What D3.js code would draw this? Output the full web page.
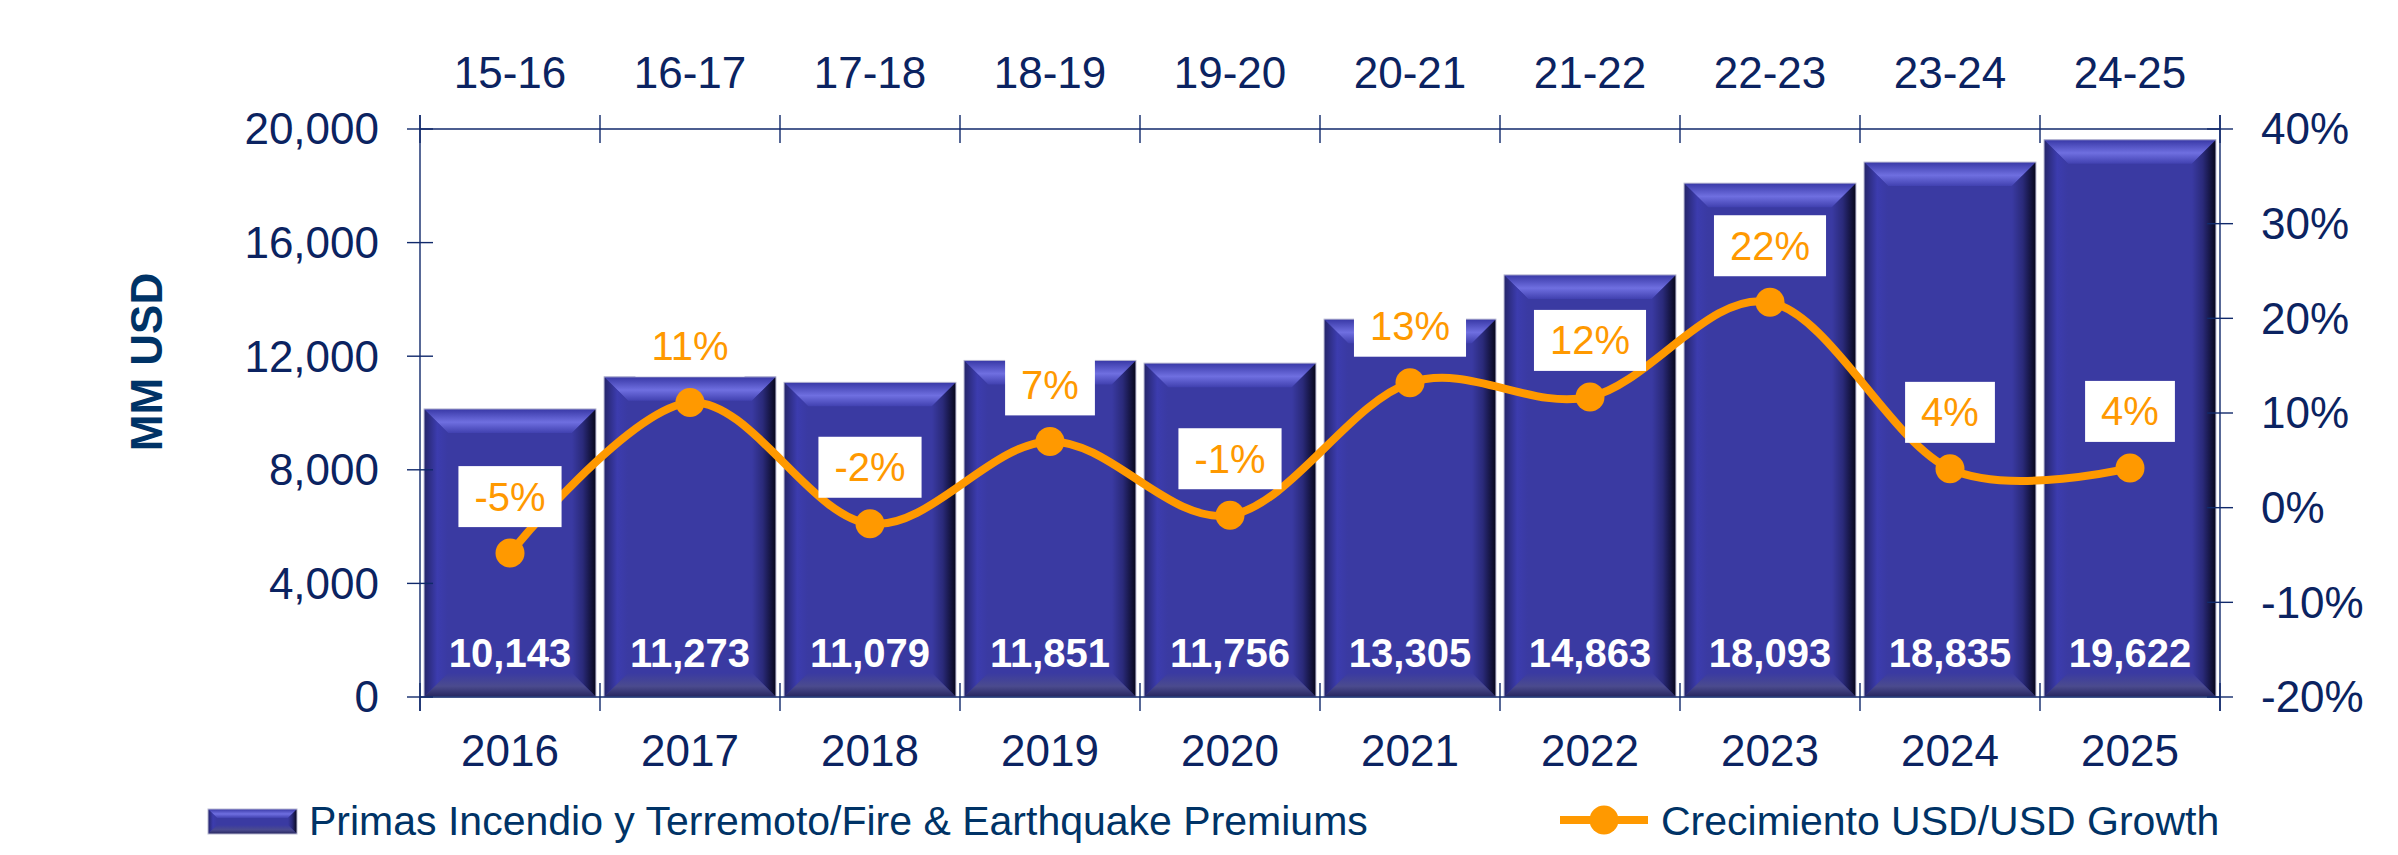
<!DOCTYPE html>
<html>
<head>
<meta charset="utf-8">
<script src="https://cdn.jsdelivr.net/npm/d3@7"></script>
<style>
  body { margin: 0; background: #fff; }
  text { font-family: "Liberation Sans", Arial, sans-serif; }
</style>
</head>
<body>
<div id="chart"></div>
<script>
// primas incendio y terremoto + crecimiento

var years = ["2016", "2017", "2018", "2019", "2020", "2021", "2022", "2023", "2024", "2025"];
var periods = ["15-16", "16-17", "17-18", "18-19", "19-20", "20-21", "21-22", "22-23", "23-24", "24-25"];
var premiums = [10143, 11273, 11079, 11851, 11756, 13305, 14863, 18093, 18835, 19622];
var growth = [-0.048, 0.111, -0.017, 0.070, -0.008, 0.132, 0.117, 0.217, 0.041, 0.042];
var growthLabels = ["-5%", "11%", "-2%", "7%", "-1%", "13%", "12%", "22%", "4%", "4%"];
var leftTicks = [0, 4000, 8000, 12000, 16000, 20000];
var rightTicks = [-0.2, -0.1, 0, 0.1, 0.2, 0.3, 0.4];
var legendLabels = ["Primas Incendio y Terremoto/Fire & Earthquake Premiums", "Crecimiento USD/USD Growth"];

var width = 2398, height = 855;
var navy = "#0b2361";
var axisColor = "#10296b";
var orange = "#FF9900";

var svg = d3.select("#chart")
    .append("svg")
    .attr("width", width)
    .attr("height", height);

var defs = svg.append("defs");

// gradients for the bevelled bars
function grad(id, x2, y2, stops) {
    var g = defs.append("linearGradient")
        .attr("id", id)
        .attr("x1", 0).attr("y1", 0)
        .attr("x2", x2).attr("y2", y2);
    stops.forEach(function (s) {
        g.append("stop").attr("offset", s[0]).attr("stop-color", s[1]);
    });
}
grad("gTop", 0, 1, [["0%", "#3838a6"], ["55%", "#6f6fe0"], ["100%", "#4141b0"]]);
grad("gLeft", 1, 0, [["0%", "#25256a"], ["55%", "#3c3cae"], ["100%", "#3a3aa2"]]);
grad("gRight", 1, 0, [["0%", "#3a3aa2"], ["45%", "#2a2a7a"], ["100%", "#06061a"]]);
grad("gBottom", 0, 1, [["0%", "#3a3aa2"], ["55%", "#4b4b8e"], ["100%", "#26265e"]]);

var x = d3.scaleBand()
    .domain(years)
    .range([420, 2220])
    .paddingInner(0.045)
    .paddingOuter(0.0225);

var yL = d3.scaleLinear().domain([0, 20000]).range([697, 129]);
var yR = d3.scaleLinear().domain([-0.2, 0.4]).range([697, 129]);

var xLeft = x.range()[0], xRight = x.range()[1];
var step = x.step();

// percent with a plain hyphen for negatives
var pct = function (d) { return d3.format(".0%")(d).replace("\u2212", "-"); };

// draws one bevelled block
function bevelBar(g, x0, y0, w, h, b) {
    var x1 = x0 + w, y1 = y0 + h;
    g.append("rect")
        .attr("x", x0).attr("y", y0).attr("width", w).attr("height", h)
        .attr("fill", "#3a3aa2");
    var pts = function (a) { return a.map(function (p) { return p.join(","); }).join(" "); };
    g.append("polygon").attr("points", pts([[x0, y0], [x1, y0], [x1 - b, y0 + b], [x0 + b, y0 + b]])).attr("fill", "url(#gTop)");
    g.append("polygon").attr("points", pts([[x0, y0], [x0 + b, y0 + b], [x0 + b, y1 - b], [x0, y1]])).attr("fill", "url(#gLeft)");
    g.append("polygon").attr("points", pts([[x1, y0], [x1, y1], [x1 - b, y1 - b], [x1 - b, y0 + b]])).attr("fill", "url(#gRight)");
    g.append("polygon").attr("points", pts([[x0, y1], [x0 + b, y1 - b], [x1 - b, y1 - b], [x1, y1]])).attr("fill", "url(#gBottom)");
    g.append("rect")
        .attr("x", x0).attr("y", y0).attr("width", w).attr("height", h)
        .attr("fill", "none").attr("stroke", "#b9b9d2").attr("stroke-width", 1);
}

// bars
var bars = svg.append("g");
years.forEach(function (yr, i) {
    var g = bars.append("g");
    bevelBar(g, x(yr), yL(premiums[i]), x.bandwidth(), yL(0) - yL(premiums[i]), 24);
});

// bar value labels
svg.append("g").selectAll("text")
    .data(premiums)
    .enter()
    .append("text")
    .attr("x", function (d, i) { return x(years[i]) + x.bandwidth() / 2; })
    .attr("y", yL(0) - 30)
    .attr("text-anchor", "middle")
    .style("font-size", "40px")
    .style("font-weight", "bold")
    .style("fill", "#fff")
    .text(function (d) { return d3.format(",")(d); });

// axes
var axes = svg.append("g").attr("stroke", axisColor).attr("stroke-width", 1.4);
// left / right vertical lines
axes.append("line").attr("x1", xLeft).attr("x2", xLeft).attr("y1", yL(20000) - 14).attr("y2", yL(0) + 14);
axes.append("line").attr("x1", xRight).attr("x2", xRight).attr("y1", yL(20000) - 14).attr("y2", yL(0) + 14);
// top and bottom horizontal lines
axes.append("line").attr("x1", xLeft).attr("x2", xRight).attr("y1", yL(20000)).attr("y2", yL(20000));
axes.append("line").attr("x1", xLeft).attr("x2", xRight).attr("y1", yL(0)).attr("y2", yL(0));

// category boundaries (crossing ticks top & bottom)
var bounds = years.map(function (d) { return x(d) - step * x.paddingInner() / 2; }).concat([xRight]);
bounds.forEach(function (bx) {
    axes.append("line").attr("x1", bx).attr("x2", bx).attr("y1", yL(0) - 14).attr("y2", yL(0) + 14);
    axes.append("line").attr("x1", bx).attr("x2", bx).attr("y1", yL(20000) - 14).attr("y2", yL(20000) + 14);
});

// value ticks
leftTicks.forEach(function (t) {
    axes.append("line").attr("x1", xLeft - 13).attr("x2", xLeft + 13).attr("y1", yL(t)).attr("y2", yL(t));
});
rightTicks.forEach(function (t) {
    axes.append("line").attr("x1", xRight - 13).attr("x2", xRight + 13).attr("y1", yR(t)).attr("y2", yR(t));
});

// tick labels
svg.append("g").selectAll("text")
    .data(leftTicks)
    .enter()
    .append("text")
    .attr("x", xLeft - 41)
    .attr("y", function (d) { return yL(d); })
    .attr("dy", "0.35em")
    .attr("text-anchor", "end")
    .style("font-size", "44px")
    .style("fill", navy)
    .text(function (d) { return d3.format(",")(d); });

svg.append("g").selectAll("text")
    .data(rightTicks)
    .enter()
    .append("text")
    .attr("x", xRight + 41)
    .attr("y", function (d) { return yR(d); })
    .attr("dy", "0.35em")
    .attr("text-anchor", "start")
    .style("font-size", "44px")
    .style("fill", navy)
    .text(pct);

svg.append("g").selectAll("text")
    .data(years)
    .enter()
    .append("text")
    .attr("x", function (d) { return x(d) + x.bandwidth() / 2; })
    .attr("y", yL(0) + 54)
    .attr("dy", "0.35em")
    .attr("text-anchor", "middle")
    .style("font-size", "44px")
    .style("fill", navy)
    .text(function (d) { return d; });

svg.append("g").selectAll("text")
    .data(periods)
    .enter()
    .append("text")
    .attr("x", function (d, i) { return x(years[i]) + x.bandwidth() / 2; })
    .attr("y", yL(20000) - 56)
    .attr("dy", "0.35em")
    .attr("text-anchor", "middle")
    .style("font-size", "44px")
    .style("fill", navy)
    .text(function (d) { return d; });

// axis title
svg.append("text")
    .attr("transform", "translate(147," + (yL(10000) - 51) + ") rotate(-90)")
    .attr("dy", "0.35em")
    .attr("text-anchor", "middle")
    .style("font-size", "44px")
    .style("font-weight", "bold")
    .style("fill", "#003366")
    .text("MM USD");

// growth line
var pts = growth.map(function (g, i) { return [x(years[i]) + x.bandwidth() / 2, yR(g)]; });
var line = d3.line().curve(d3.curveCardinal.tension(0));
svg.append("path")
    .attr("d", line(pts))
    .attr("fill", "none")
    .attr("stroke", orange)
    .attr("stroke-width", 8);

svg.append("g").selectAll("circle")
    .data(pts)
    .enter()
    .append("circle")
    .attr("cx", function (d) { return d[0]; })
    .attr("cy", function (d) { return d[1]; })
    .attr("r", 14.5)
    .attr("fill", orange);

// growth labels on white boxes
var lab = svg.append("g").selectAll("g")
    .data(pts)
    .enter()
    .append("g")
    .attr("transform", function (d) { return "translate(" + d[0] + "," + (d[1] - 57) + ")"; });
lab.append("text")
    .attr("text-anchor", "middle")
    .attr("dy", "0.36em")
    .style("font-size", "40px")
    .style("fill", orange)
    .text(function (d, i) { return growthLabels[i]; });
lab.each(function () {
    var g = d3.select(this);
    var bb = g.select("text").node().getBBox();
    g.insert("rect", "text")
        .attr("x", bb.x - 16)
        .attr("y", -30)
        .attr("width", bb.width + 32)
        .attr("height", 61)
        .attr("fill", "#fff");
});

// legend
var leg = svg.append("g");
bevelBar(leg.append("g"), 208, 809, 89, 25, 9);
leg.append("text")
    .attr("x", 309).attr("y", 821).attr("dy", "0.35em")
    .style("font-size", "41px").style("fill", "#003366")
    .text(legendLabels[0]);
leg.append("line")
    .attr("x1", 1560).attr("x2", 1648).attr("y1", 820).attr("y2", 820)
    .attr("stroke", orange).attr("stroke-width", 8);
leg.append("circle")
    .attr("cx", 1604).attr("cy", 820).attr("r", 14.5).attr("fill", orange);
leg.append("text")
    .attr("x", 1661).attr("y", 821).attr("dy", "0.35em")
    .style("font-size", "41px").style("fill", "#003366")
    .text(legendLabels[1]);
</script>
</body>
</html>
